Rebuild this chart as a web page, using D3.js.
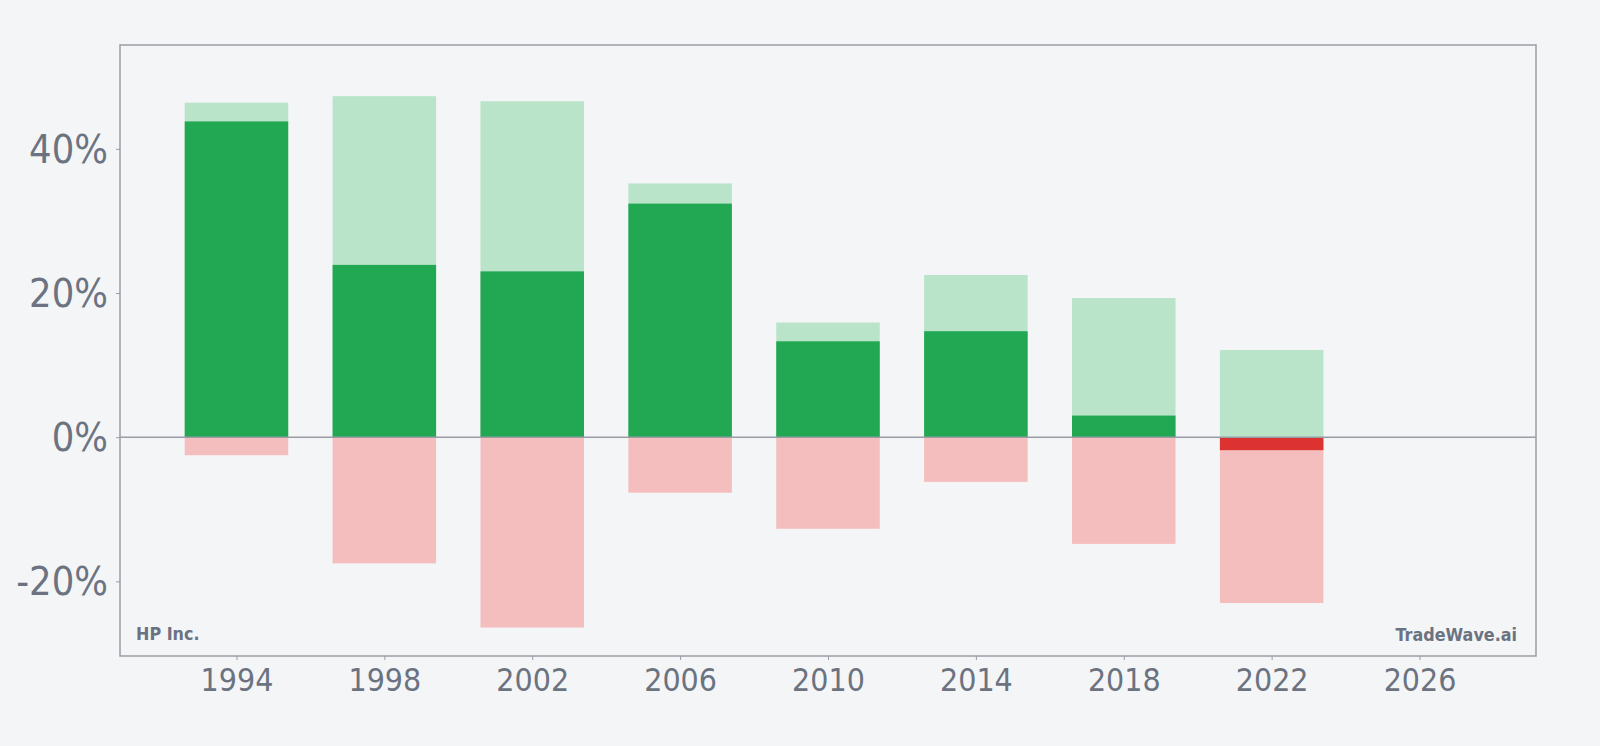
<!DOCTYPE html>
<html>
<head>
<meta charset="utf-8">
<script src="https://cdn.jsdelivr.net/npm/d3@7"></script>
<style>
  body { margin: 0; background: #f4f5f7; }
  svg { display: block; font-family: "DejaVu Sans", sans-serif; }
</style>
</head>
<body>
<svg id="chart" width="1600" height="746"></svg>
<script>
// yearly ranges, in percent from the open
const years = [1994, 1998, 2002, 2006, 2010, 2014, 2018, 2022];
const highs = [46.4, 47.3, 46.6, 35.2, 15.9, 22.5, 19.3, 12.1];
const lows = [-2.5, -17.5, -26.4, -7.7, -12.7, -6.2, -14.8, -23.0];
const returns = [43.8, 23.9, 23.0, 32.4, 13.3, 14.7, 3.0, -1.8];
const yTicks = [-20, 0, 20, 40];
const xTicks = [1994, 1998, 2002, 2006, 2010, 2014, 2018, 2022, 2026];

const svg = d3.select("#chart");
const margin = { top: 45, right: 64, bottom: 90, left: 120 };
const width = 1600 - margin.left - margin.right;
const height = 746 - margin.top - margin.bottom;
const textColor = "#6b7280";
const frameColor = "#9a9ca6";
const stretch = 1.11;

const x = d3.scaleLinear().domain([1990.85, 2029.15]).range([0, width]);
const y = d3.scaleLinear().domain([-30.35, 54.4]).range([height, 0]);
const barW = x(2.8) - x(0);

const g = svg.append("g")
  .attr("transform", `translate(${margin.left}, ${margin.top})`);

const data = years.map((yr, i) => ({ yr, high: highs[i], low: lows[i], ret: returns[i] }));

g.selectAll("rect.high")
  .data(data)
  .join("rect")
  .attr("class", "high")
  .attr("x", d => x(d.yr) - barW / 2)
  .attr("width", barW)
  .attr("y", d => y(d.high))
  .attr("height", d => y(0) - y(d.high))
  .attr("fill", "#b9e4c9");

g.selectAll("rect.low")
  .data(data)
  .join("rect")
  .attr("class", "low")
  .attr("x", d => x(d.yr) - barW / 2)
  .attr("width", barW)
  .attr("y", y(0))
  .attr("height", d => y(d.low) - y(0))
  .attr("fill", "#f4bebe");

g.selectAll("rect.ret")
  .data(data)
  .join("rect")
  .attr("class", "ret")
  .attr("x", d => x(d.yr) - barW / 2)
  .attr("width", barW)
  .attr("y", d => y(Math.max(0, d.ret)))
  .attr("height", d => Math.abs(y(d.ret) - y(0)))
  .attr("fill", d => d.ret >= 0 ? "#22a853" : "#dc3232");

// zero line
g.append("line")
  .attr("x1", 0).attr("x2", width)
  .attr("y1", y(0)).attr("y2", y(0))
  .attr("stroke", frameColor)
  .attr("stroke-width", 1.5);

// frame
g.append("rect")
  .attr("width", width).attr("height", height)
  .attr("fill", "none")
  .attr("stroke", frameColor)
  .attr("stroke-width", 1.5);

const yAxis = g.append("g")
  .call(d3.axisLeft(y).tickValues(yTicks).tickSize(4).tickPadding(8).tickFormat(d => d + "%"))
  .attr("font-family", "DejaVu Sans");
yAxis.select(".domain").remove();
yAxis.selectAll(".tick line").attr("stroke", frameColor);
yAxis.selectAll(".tick text")
  .attr("fill", textColor)
  .style("font-size", "35.5px")
  .attr("dy", "0.34em")
  .attr("transform", `scale(1, ${stretch})`);

const xAxis = g.append("g")
  .attr("transform", `translate(0, ${height})`)
  .call(d3.axisBottom(x).tickValues(xTicks).tickSize(4).tickPadding(7).tickFormat(d3.format("d")))
  .attr("font-family", "DejaVu Sans");
xAxis.select(".domain").remove();
xAxis.selectAll(".tick line").attr("stroke", frameColor);
xAxis.selectAll(".tick text")
  .attr("fill", textColor)
  .style("font-size", "28.6px")
  .attr("transform", `scale(1, ${stretch})`);

// watermarks
g.append("text")
  .attr("transform", `translate(16, ${height - 16}) scale(1, ${stretch})`)
  .attr("fill", textColor)
  .style("font-size", "16px")
  .style("font-weight", "bold")
  .text("HP Inc.");

g.append("text")
  .attr("transform", `translate(${width - 19}, ${height - 15}) scale(1, ${stretch})`)
  .attr("text-anchor", "end")
  .attr("fill", textColor)
  .style("font-size", "16px")
  .style("font-weight", "bold")
  .text("TradeWave.ai");
</script>
</body>
</html>
